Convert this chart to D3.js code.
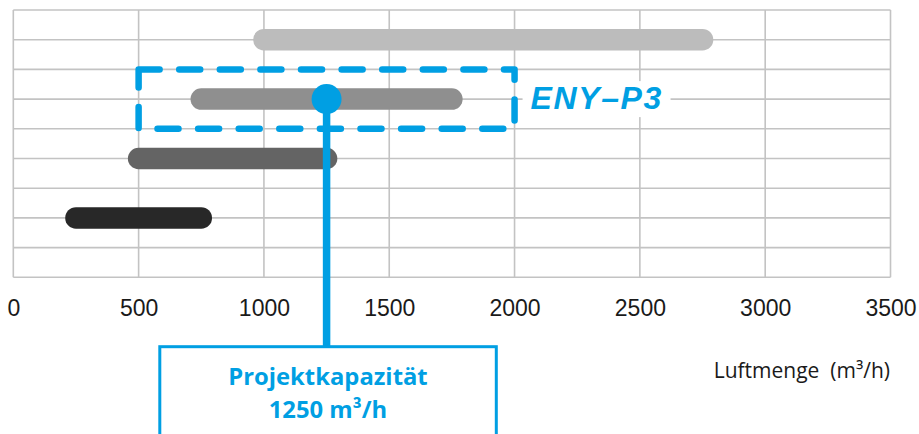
<!DOCTYPE html>
<html><head><meta charset="utf-8">
<script src="https://cdn.jsdelivr.net/npm/d3@7"></script>
<style>
html,body{margin:0;padding:0;background:#fff;}
svg{display:block;}
</style></head>
<body>
<svg id="chart" width="919" height="434"></svg>
<script>
// ---- data ----
const xTicks = [0, 500, 1000, 1500, 2000, 2500, 3000, 3500];
const rowLines = [0, 1, 2, 3, 4, 5, 6, 7, 8, 9];
const barRows = [1, 3, 5, 7];
const barStart = [1000, 750, 500, 250];
const barEnd = [2750, 1750, 1250, 750];
const barColors = ["#bcbcbc", "#8f8f8f", "#646464", "#282828"];
const highlightRange = [500, 2000];
const highlightRows = [2, 4];
const highlightLabel = "ENY\u2013P3";
const projectCapacity = 1250;
const projectRow = 3;
const boxLines = ["Projektkapazit\u00e4t", "1250 m\u00b3/h"];
const axisTitle = "Luftmenge\u00a0 (m\u00b3/h)";

// ---- scales ----
const svg = d3.select("#chart");
const x = d3.scaleLinear().domain([0, 3500]).range([13.3, 890.5]);
const y = d3.scaleLinear().domain([0, 9]).range([10, 277.3]);
const blue = "#009fe3";
const gridColor = "#c3c3c3";

// grid
const g = svg.append("g");
g.selectAll("line.h").data(rowLines).enter().append("line")
  .attr("x1", x(0)).attr("x2", x(3500))
  .attr("y1", d => y(d)).attr("y2", d => y(d))
  .attr("stroke", gridColor).attr("stroke-width", 1.6);
g.selectAll("line.v").data(xTicks).enter().append("line")
  .attr("x1", d => x(d)).attr("x2", d => x(d))
  .attr("y1", y(0)).attr("y2", y(9))
  .attr("stroke", gridColor).attr("stroke-width", 1.6);

// axis labels
const xAxis = d3.axisBottom(x).tickValues(xTicks).tickSize(0).tickPadding(0).tickFormat(d3.format("d"));
const ax = svg.append("g").attr("transform", `translate(0,${300})`).call(xAxis);
ax.select(".domain").remove();
ax.selectAll("text")
  .attr("dy", "0.71em").attr("y", 0)
  .attr("font-family", "Liberation Sans, Arial, sans-serif")
  .attr("font-size", 23).attr("fill", "#1a1a1a");

// bars
svg.selectAll("line.bar").data(barRows).enter().append("line")
  .attr("x1", (d, i) => x(barStart[i])).attr("x2", (d, i) => x(barEnd[i]))
  .attr("y1", d => y(d)).attr("y2", d => y(d))
  .attr("stroke", (d, i) => barColors[i])
  .attr("stroke-width", 21.5).attr("stroke-linecap", "round");

// highlight dashed rectangle
const rx0 = x(highlightRange[0]), rx1 = x(highlightRange[1]);
const ry0 = y(highlightRows[0]), ry1 = y(highlightRows[1]);
const p = d3.path();
p.moveTo(rx0, ry0); p.lineTo(rx1, ry0); p.lineTo(rx1, ry1); p.lineTo(rx0, ry1); p.closePath();
svg.append("path").attr("d", p.toString())
  .attr("fill", "none").attr("stroke", blue).attr("stroke-width", 6.5)
  .attr("stroke-dasharray", "21 19.6").attr("stroke-linecap", "round")
  .attr("stroke-linejoin", "round");

// label with white background
svg.append("rect").attr("x", rx1 + 8).attr("y", y(projectRow) - 18)
  .attr("width", 148).attr("height", 36).attr("fill", "#fff");
svg.append("text").attr("x", rx1 + 16).attr("y", y(projectRow) + 10)
  .attr("font-family", "Liberation Sans, Arial, sans-serif")
  .attr("font-weight", "bold").attr("font-style", "italic")
  .attr("font-size", 32).attr("letter-spacing", 1.6)
  .attr("fill", blue).text(highlightLabel);

// project capacity marker
const px = x(projectCapacity);
const boxTop = 346.7;
svg.append("line").attr("x1", px).attr("x2", px)
  .attr("y1", y(projectRow)).attr("y2", boxTop)
  .attr("stroke", blue).attr("stroke-width", 7.5);
svg.append("circle").attr("cx", px).attr("cy", y(projectRow)).attr("r", 15).attr("fill", blue);

svg.append("rect").attr("x", 159.8).attr("y", boxTop).attr("width", 336.5).attr("height", 120)
  .attr("fill", "#fff").attr("stroke", blue).attr("stroke-width", 3);
svg.selectAll("text.box").data(boxLines).enter().append("text")
  .attr("x", 328).attr("y", (d, i) => 384.5 + i * 33)
  .attr("text-anchor", "middle")
  .attr("font-family", "Open Sans, sans-serif").attr("font-weight", "bold")
  .attr("font-size", 23.8).attr("fill", blue).text(d => d);

// axis title
svg.append("text").attr("x", 890).attr("y", 377.5).attr("text-anchor", "end")
  .attr("font-family", "Open Sans, sans-serif").attr("font-size", 21)
  .attr("fill", "#1a1a1a").text(axisTitle);
</script>
</body></html>
